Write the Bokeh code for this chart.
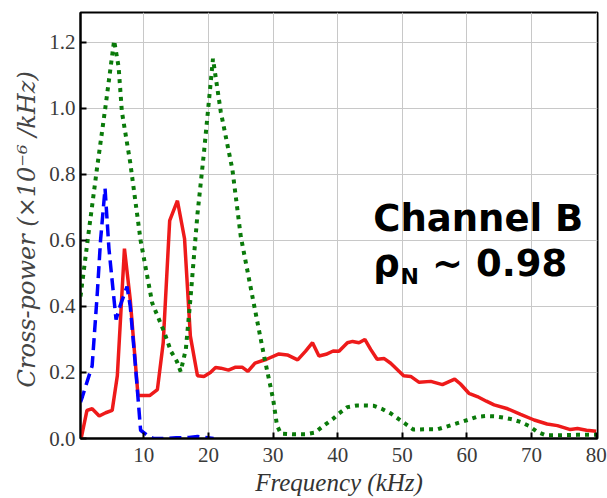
from bokeh.plotting import figure
from bokeh.models import Range1d, FixedTicker, NumeralTickFormatter, Label
from bokeh.embed import file_html
from bokeh.resources import INLINE

# ---- data ----
red_f = [0.3, 1.2, 2.0, 3.1, 4.1, 5.1, 5.9, 7.0, 7.9, 9.1, 10.9, 12.1, 13.0, 14.0, 15.2,
         16.3, 17.2, 18.3, 19.3, 20.3, 21.1, 21.9, 23.1, 24.2, 25.2, 26.1, 27.2, 29.0,
         30.9, 32.2, 33.8, 35.0, 36.1, 37.1, 38.2, 39.3, 40.2, 41.5, 42.3, 43.3, 44.2,
         45.1, 46.1, 47.2, 48.2, 50.2, 51.3, 52.6, 54.4, 56.2, 58.1, 59.0, 60.3, 61.6,
         63.0, 64.2, 66.3, 68.3, 70.4, 72.4, 74.0, 76.0, 77.1, 78.5, 80.0]
red_y = [0.0, 0.085, 0.09, 0.068, 0.078, 0.085, 0.19, 0.575, 0.42, 0.13, 0.13, 0.148, 0.29,
         0.66, 0.72, 0.605, 0.31, 0.19, 0.188, 0.2, 0.215, 0.213, 0.207, 0.216, 0.216,
         0.203, 0.228, 0.24, 0.256, 0.253, 0.238, 0.264, 0.29, 0.25, 0.255, 0.265, 0.264,
         0.29, 0.294, 0.29, 0.30, 0.27, 0.24, 0.242, 0.228, 0.19, 0.188, 0.17, 0.173,
         0.163, 0.18, 0.165, 0.137, 0.127, 0.113, 0.102, 0.09, 0.073, 0.056, 0.044, 0.039,
         0.027, 0.03, 0.025, 0.022]

green_f = [0.2, 1.5, 2.8, 4.1, 5.4, 6.1, 6.6, 7.9, 9.5, 11.3, 13.1, 14.2, 15.1, 15.7, 16.5,
           17.2, 18.3, 19.3, 20.7, 21.9, 23.7, 25.0, 27.0, 28.6, 30.0, 30.6, 31.2, 33.0,
           35.0, 36.5, 37.9, 39.2, 40.2, 41.5, 43.0, 44.3, 45.6, 46.8, 48.2, 49.5, 50.8,
           51.7, 53.5, 55.5, 57.5, 58.8, 60.1, 61.6, 62.9, 64.3, 65.7, 67.0, 68.3, 69.6,
           70.9, 72.2, 74.5, 77.0, 80.0]
green_y = [0.43, 0.63, 0.825, 1.01, 1.205, 1.125, 0.99, 0.835, 0.60, 0.41, 0.325, 0.264, 0.234,
           0.203, 0.27, 0.42, 0.68, 0.865, 1.15, 0.99, 0.815, 0.612, 0.41, 0.25, 0.12, 0.04,
           0.015, 0.013, 0.013, 0.018, 0.04, 0.058, 0.076, 0.095, 0.1, 0.1, 0.099, 0.09,
           0.076, 0.058, 0.04, 0.027, 0.028, 0.028, 0.04, 0.048, 0.056, 0.066, 0.068, 0.067,
           0.063, 0.058, 0.05, 0.038, 0.02, 0.01, 0.01, 0.011, 0.011]

blue_f = [0.2, 0.5, 2.0, 2.8, 3.3, 4.0, 4.6, 5.7, 6.3, 7.4, 7.9, 8.7, 9.5, 10.5, 11.5, 13.0,
          15.0, 17.0, 18.3, 19.5, 20.8]
blue_y = [0.11, 0.127, 0.22, 0.44, 0.60, 0.757, 0.575, 0.36, 0.40, 0.46, 0.40, 0.22, 0.025,
          0.01, 0.0, 0.0, 0.002, 0.003, 0.006, 0.003, 0.0]

x_ticks = [10, 20, 30, 40, 50, 60, 70, 80]
y_ticks = [0.0, 0.2, 0.4, 0.6, 0.8, 1.0, 1.2]

p = figure(width=607, height=498, output_backend="svg", toolbar_location=None,
           x_range=Range1d(0.2, 80.2), y_range=Range1d(0, 1.29),
           min_border_left=80, min_border_right=10, min_border_top=12, min_border_bottom=59)
p.background_fill_color = "white"
p.border_fill_color = "white"
p.outline_line_color = "black"
p.outline_line_width = 2

p.line(red_f, red_y, line_color="#ee1a1a", line_width=3.5)
p.line(blue_f, blue_y, line_color="#0000ff", line_width=3.5, line_dash="12 6")
p.line(green_f, green_y, line_color="#0a7a0a", line_width=4, line_dash="4 5")

for ax in (p.xaxis[0], p.yaxis[0]):
    ax.axis_line_color = "black"
    ax.axis_line_width = 2
    ax.major_tick_in = 6
    ax.major_tick_out = 0
    ax.major_tick_line_width = 2
    ax.major_tick_line_color = "black"
    ax.minor_tick_line_color = None
    ax.major_label_text_font = "Liberation Serif"
    ax.major_label_text_font_size = "21px"
    ax.major_label_text_color = "#3a3a3a"
    ax.axis_label_text_font_style = "italic"

p.xaxis[0].ticker = FixedTicker(ticks=x_ticks)
p.yaxis[0].ticker = FixedTicker(ticks=y_ticks)
p.yaxis[0].formatter = NumeralTickFormatter(format="0.0")
p.xaxis[0].major_label_standoff = 9
p.yaxis[0].major_label_standoff = 5

p.yaxis[0].axis_label = "Cross-power  (×10⁻⁶ /kHz)"
p.yaxis[0].axis_label_text_font = "DejaVu Serif"
p.yaxis[0].axis_label_text_font_size = "24px"
p.yaxis[0].axis_label_text_color = "#444444"
p.yaxis[0].axis_label_standoff = 5

p.xaxis[0].axis_label = "Frequency (kHz)"
p.xaxis[0].axis_label_text_font = "Liberation Serif"
p.xaxis[0].axis_label_text_font_size = "25px"
p.xaxis[0].axis_label_text_color = "#333333"
p.xaxis[0].axis_label_standoff = 4

p.xgrid[0].ticker = FixedTicker(ticks=x_ticks)
p.ygrid[0].ticker = FixedTicker(ticks=y_ticks)
p.grid.grid_line_color = "#c8c8c8"
p.grid.grid_line_width = 1

# annotation
p.add_layout(Label(x=45.5, y=0.665, text="Channel B", text_font="DejaVu Sans",
                   text_font_style="bold", text_font_size="37px", text_color="black",
                   text_baseline="alphabetic"))
p.add_layout(Label(x=45.5, y=0.53, text="ρ", text_font="DejaVu Sans",
                   text_font_style="bold", text_font_size="37px", text_color="black",
                   text_baseline="alphabetic"))
p.add_layout(Label(x=49.7, y=0.49, text="N", text_font="DejaVu Sans",
                   text_font_style="bold", text_font_size="22px", text_color="black",
                   text_baseline="alphabetic"))
p.add_layout(Label(x=54.6, y=0.53, text="~ 0.98", text_font="DejaVu Sans",
                   text_font_style="bold", text_font_size="37px", text_color="black",
                   text_baseline="alphabetic"))

open("out.html", "w").write(file_html(p, INLINE))
